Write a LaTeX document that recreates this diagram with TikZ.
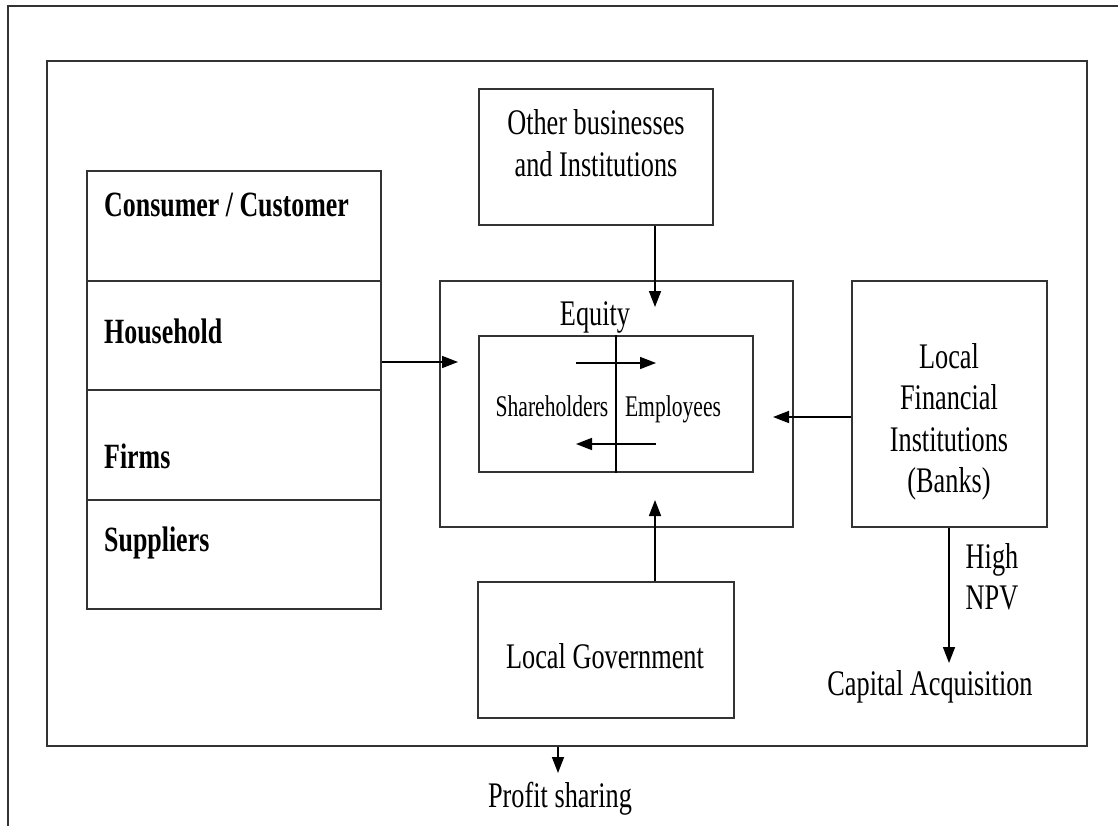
\documentclass[tikz,border=0pt]{standalone}
\usepackage{fontspec}
\setmainfont{Liberation Serif}
\usetikzlibrary{arrows.meta}
\newcommand{\sqz}[2][0.73]{\scalebox{#1}[1]{\begin{tabular}{@{}c@{}}#2\end{tabular}}}
\newcommand{\sqzl}[2][0.73]{\scalebox{#1}[1]{\begin{tabular}{@{}l@{}}#2\end{tabular}}}
\begin{document}
\begin{tikzpicture}[x=1pt,y=-1pt,
  frame/.style={draw=black!80, line width=1.6pt},
  box/.style={draw=black!80, line width=1.6pt, rectangle, inner sep=0pt},
  txt/.style={inner sep=0pt, font=\fontsize{36}{41.5}\selectfont},
  stxt/.style={inner sep=0pt, font=\fontsize{30}{34.5}\selectfont},
  btxt/.style={inner sep=0pt, anchor=west, font=\fontsize{35.5}{41}\selectfont\bfseries},
  arr/.style={draw=black, line width=1.6pt, -{Triangle[length=16pt,width=12pt]}},
  plain/.style={draw=black, line width=1.6pt}]
\useasboundingbox (0,0) rectangle (1118,826);
% outer page frame
\draw[frame] (8,826) -- (8,6) -- (1118,6);
% inner frame
\node[box, minimum width=1040pt, minimum height=685pt] (inner) at (567,403.5) {};
% left stack
\node[box, minimum width=294pt, minimum height=110pt] (cons) at (234,226) {};
\node[box, minimum width=294pt, minimum height=109pt] (hh) at (234,335.5) {};
\node[box, minimum width=294pt, minimum height=110pt] (firms) at (234,445) {};
\node[box, minimum width=294pt, minimum height=109pt] (supp) at (234,554.5) {};
\node[btxt] (tcons) at (104,208.6) {\sqzl{Consumer / Customer}};
\node[btxt] (thh) at (104,335) {\sqzl{Household}};
\node[btxt] (tfirms) at (104,460) {\sqzl{Firms}};
\node[btxt] (tsupp) at (104,543) {\sqzl{Suppliers}};
% other businesses
\node[box, minimum width=234pt, minimum height=136pt] (other) at (596,157) {};
\node[txt] (tother) at (596,147) {\sqz{Other businesses\\and Institutions}};
% equity
\node[box, minimum width=353pt, minimum height=246pt] (equity) at (616.5,404) {};
\node[txt] (tequity) at (595,317.6) {\sqz{Equity}};
\node[box, minimum width=274pt, minimum height=136pt] (einner) at (616,404) {};
\draw[plain] (einner.north) -- (einner.south);
\node[stxt] (tsh) at (552,410) {\sqz[0.72]{Shareholders}};
\node[stxt] (temp) at (673,410) {\sqz[0.72]{Employees}};
\coordinate (a1s) at (576,363);
\coordinate (a1e) at (656,363);
\coordinate (a2s) at (656,444);
\coordinate (a2e) at (576,444);
\draw[arr] (a1s) -- (a1e);
\draw[arr] (a2s) -- (a2e);
% local financial institutions
\node[box, minimum width=195pt, minimum height=246pt] (lfi) at (949.5,404) {};
\node[txt] (tlfi) at (949,422) {\sqz{Local\\Financial\\Institutions\\(Banks)}};
% local government
\node[box, minimum width=256pt, minimum height=136pt] (gov) at (606,650) {};
\node[txt] (tgov) at (605,660.6) {\sqz{Local Government}};
% capital acquisition
\node[txt] (tcap) at (930,687) {\sqz{Capital Acquisition}};
\node[txt] (tnpv) at (992,580.7) {\sqz{High\\NPV}};
% profit sharing
\node[txt] (tprofit) at (560,799) {\sqz{Profit sharing}};
% connectors
\coordinate (hhTip) at (458,362);
\draw[arr] ([yshift=-26.5pt]hh.east) -- (hhTip);
\coordinate (otherTip) at (655,307);
\draw[arr] (other.south -| otherTip) -- (otherTip);
\coordinate (lfiTip) at (773,417);
\draw[arr] (lfi.west |- lfiTip) -- (lfiTip);
\coordinate (govTip) at (655,500);
\draw[arr] (gov.north -| govTip) -- (govTip);
\coordinate (capTip) at (949,663);
\draw[arr] (lfi.south -| capTip) -- (capTip);
\coordinate (profTip) at (558,773);
\draw[arr] (inner.south -| profTip) -- (profTip);
\end{tikzpicture}
\end{document}
